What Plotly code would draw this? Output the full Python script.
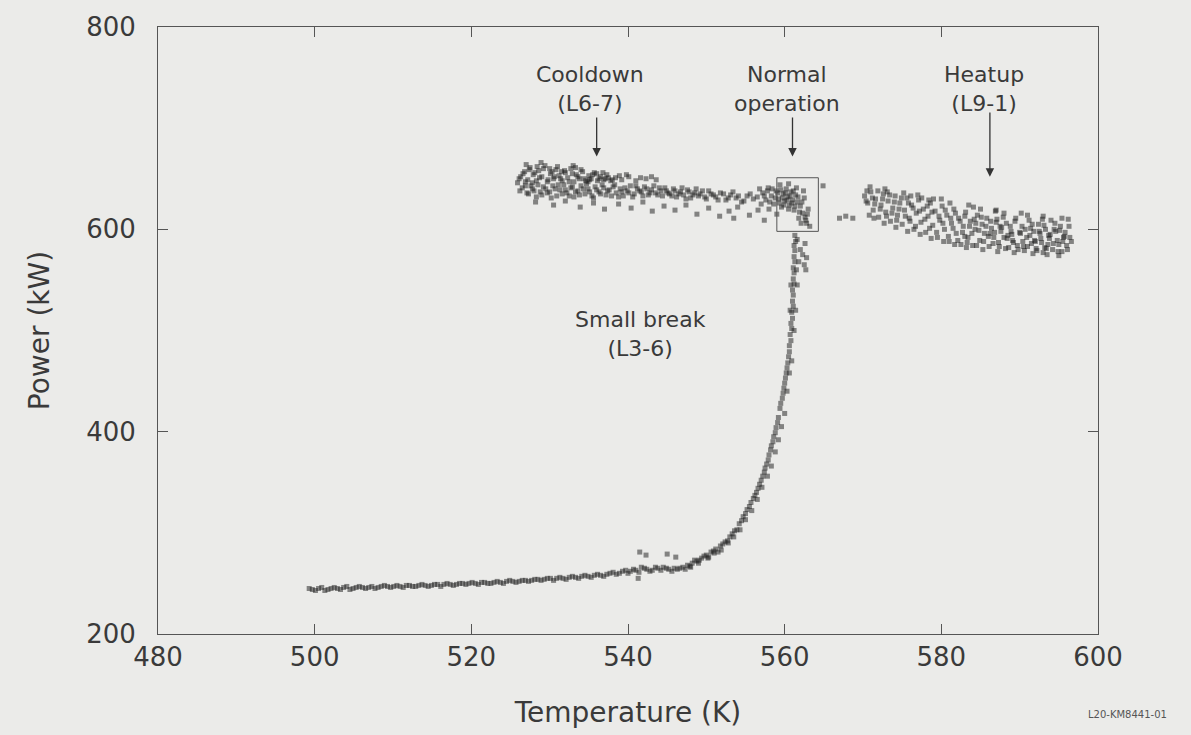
import plotly.graph_objects as go

# ---- Cooldown run (L6-7): (temperature K, power kW)
cool_pts = [
    # upper layer
    (526.3, 652), (526.8, 657), (527.2, 649), (527.5, 661), (527.9, 654), (528.3, 648), (528.6, 658),
    (529.0, 652), (529.4, 663), (529.7, 647), (530.1, 655), (530.5, 650), (530.8, 659), (531.2, 653),
    (531.6, 648), (532.0, 656), (532.3, 651), (532.7, 660), (533.1, 647), (533.4, 654), (533.8, 650),
    (534.2, 657), (534.6, 648), (535.0, 653), (535.3, 650), (535.7, 656), (536.1, 648), (536.5, 652),
    (536.9, 649), (537.3, 654), (537.8, 648), (538.4, 651), (539.2, 649), (540.1, 652), (541.0, 648),
    (542.3, 650), (543.6, 649), (527.0, 664), (528.9, 666), (531.0, 662), (525.9, 646), (533.0, 663),
    (526.1, 650), (526.6, 655), (527.4, 659), (527.8, 646), (528.1, 656), (528.7, 651), (529.2, 660),
    (529.8, 649), (530.3, 657), (530.6, 652), (531.4, 650), (531.9, 658), (532.5, 647), (532.9, 655),
    (533.6, 652), (534.0, 659), (534.4, 650), (534.9, 647), (535.5, 654), (536.3, 650), (536.8, 656),
    (537.5, 651), (538.0, 649), (538.9, 653), (526.9, 647), (528.4, 662), (530.0, 660), (531.5, 657),
    (533.3, 661), (535.1, 649), (536.0, 655), (537.1, 650), (539.8, 654), (541.6, 651), (543.0, 652),
    # lower layer
    (526.5, 641), (527.1, 636), (527.6, 643), (528.0, 638), (528.5, 644), (529.0, 634), (529.5, 640),
    (530.0, 637), (530.4, 643), (530.9, 633), (531.3, 639), (531.8, 644), (532.2, 636), (532.7, 641),
    (533.1, 632), (533.6, 638), (534.0, 643), (534.5, 635), (534.9, 640), (535.4, 633), (535.8, 642),
    (536.3, 637), (536.7, 644), (537.2, 634), (537.6, 639), (538.1, 642), (538.5, 636), (539.0, 640),
    (539.4, 633), (539.9, 638), (540.3, 643), (540.8, 635), (541.2, 640), (541.7, 637), (542.1, 642),
    (542.6, 634), (543.0, 639), (543.5, 636), (544.0, 641), (544.4, 633), (544.9, 638), (545.3, 635),
    (545.8, 640), (546.2, 632), (546.7, 637), (547.1, 634), (547.6, 639), (548.0, 631), (548.5, 636),
    (549.0, 633), (549.5, 638), (550.0, 630), (550.6, 635), (551.2, 632), (551.8, 636), (552.5, 629),
    (553.1, 634), (553.8, 631), (554.5, 627), (555.2, 633), (556.0, 630),
    (526.2, 638), (526.9, 643), (527.3, 635), (527.8, 640), (528.3, 632), (528.8, 637), (529.2, 642),
    (529.7, 636), (530.2, 631), (530.7, 640), (531.1, 644), (531.6, 635), (532.0, 639), (532.5, 633),
    (532.9, 642), (533.3, 637), (533.8, 634), (534.3, 640), (534.7, 645), (535.1, 637), (535.6, 631),
    (536.0, 639), (536.5, 635), (536.9, 641), (537.4, 638), (537.9, 633), (538.3, 644), (538.8, 632),
    (539.2, 637), (539.6, 641), (540.1, 636), (540.6, 632), (541.0, 643), (541.5, 638), (541.9, 633),
    (542.4, 640), (542.8, 636), (543.3, 643), (543.8, 634), (544.2, 638), (544.7, 641), (545.1, 636),
    (545.6, 633), (546.0, 638), (546.5, 635), (546.9, 641), (547.4, 630), (547.8, 637), (548.3, 634),
    (548.7, 640), (549.2, 635), (549.8, 632), (550.3, 638), (550.9, 634), (551.5, 629), (552.2, 635),
    (552.8, 631), (553.4, 637), (554.1, 633), (554.8, 628), (555.6, 635),
    # sparse fringe underneath
    (528.2, 627), (530.5, 624), (532.0, 628), (533.9, 622), (535.6, 626), (537.0, 620), (538.8, 625),
    (540.4, 621), (541.9, 627), (543.1, 618), (544.6, 623), (546.0, 619), (547.4, 624), (548.8, 615),
    (550.3, 621), (551.7, 613), (552.9, 618), (554.0, 622), (555.5, 614), (556.6, 619), (557.4, 609),
    (553.5, 611),
]

# ---- Normal operation
norm_pts = [
    (557.2, 636), (557.6, 629), (557.9, 641), (558.3, 633), (558.6, 625), (558.9, 638), (559.2, 630),
    (559.4, 644), (559.6, 622), (559.8, 635), (560.0, 628), (560.2, 640), (560.4, 632), (560.6, 624),
    (560.8, 637), (561.0, 629), (561.2, 619), (561.4, 634), (561.6, 627), (561.8, 611), (562.0, 623),
    (562.1, 606), (562.3, 616), (562.5, 631), (562.7, 609), (563.0, 620), (563.2, 603), (558.0, 620),
    (559.0, 615), (560.5, 645), (561.5, 641), (562.4, 638),
    (557.4, 633), (557.8, 638), (558.1, 627), (558.4, 640), (558.8, 631), (559.1, 636), (559.3, 626),
    (559.5, 639), (559.7, 631), (559.9, 624), (560.1, 636), (560.3, 629), (560.5, 620), (560.7, 633),
    (560.9, 626), (561.1, 638), (561.3, 623), (561.7, 632), (561.9, 617), (562.2, 627), (562.6, 612),
    (562.8, 606), (562.9, 615), (556.8, 640), (556.5, 632), (557.0, 625),
    (564.9, 643), (567.0, 611), (567.8, 613), (568.7, 611),
]

# ---- Heatup run (L9-1)
heat_pts = [
    (570.2, 633), (570.6, 626), (571.0, 637), (571.3, 619), (571.6, 630), (572.0, 612), (572.3, 624),
    (572.6, 635), (572.9, 617), (573.2, 628), (573.5, 608), (573.8, 621), (574.1, 633), (574.4, 614),
    (570.9, 642), (572.8, 640),
    (574.7, 626), (575.0, 605), (575.3, 619), (575.6, 631), (575.9, 611), (576.2, 624), (576.5, 600),
    (576.8, 616), (577.1, 629), (577.4, 607), (577.7, 620), (578.0, 597), (578.3, 613), (578.6, 626),
    (575.2, 636), (577.0, 634),
    (578.9, 604), (579.2, 618), (579.5, 592), (579.8, 609), (580.1, 623), (580.4, 600), (580.7, 614),
    (581.0, 588), (581.3, 606), (581.6, 620), (581.9, 596), (582.2, 611), (582.5, 585), (580.0, 630),
    (582.8, 603),
    (583.1, 617), (583.4, 592), (583.7, 608), (584.0, 584), (584.3, 600), (584.6, 614), (584.9, 589),
    (585.2, 605), (585.5, 596), (585.8, 611), (586.1, 583), (586.4, 601), (586.7, 592), (583.5, 624),
    (585.0, 620),
    (587.0, 607), (587.3, 587), (587.6, 598), (587.9, 612), (588.2, 581), (588.5, 594), (588.8, 603),
    (589.1, 589), (589.4, 608), (589.7, 584), (590.0, 597), (586.9, 618), (588.0, 616),
    (590.3, 603), (590.6, 579), (590.9, 592), (591.2, 609), (591.5, 586), (591.8, 598), (592.1, 581),
    (592.4, 605), (592.7, 591), (593.0, 577), (593.3, 600), (593.6, 585), (593.9, 595), (591.0, 614),
    (592.9, 610),
    (594.2, 580), (594.5, 606), (594.8, 589), (595.1, 599), (595.4, 578), (595.7, 593), (596.0, 584),
    (596.3, 603), (596.6, 588), (595.0, 574), (596.2, 610),
    (570.4, 628), (570.8, 614), (571.2, 631), (571.5, 625), (571.9, 638), (572.2, 620), (572.5, 630),
    (573.0, 613), (573.4, 634), (573.7, 616), (574.0, 627), (574.3, 609), (574.6, 620), (574.9, 631),
    (575.4, 613), (575.8, 626), (576.0, 608), (576.4, 621), (576.7, 603), (577.2, 618), (577.5, 631),
    (577.9, 610), (578.2, 623), (578.5, 601), (578.8, 617), (579.0, 630), (579.4, 597), (579.7, 613),
    (580.2, 606), (580.5, 619), (580.9, 593), (581.2, 611), (581.5, 601), (581.8, 616), (582.1, 589),
    (582.4, 608), (582.7, 597), (583.0, 613), (583.3, 587), (583.6, 603), (583.9, 596), (584.2, 610),
    (584.5, 584), (584.8, 599), (585.1, 612), (585.4, 588), (585.7, 603), (586.0, 593), (586.3, 608),
    (586.6, 586), (586.8, 597), (587.1, 610), (587.4, 583), (587.7, 602), (588.0, 592), (588.3, 606),
    (588.6, 582), (588.9, 598), (589.2, 587), (589.5, 611), (589.8, 580), (590.1, 596), (590.4, 588),
    (590.7, 600), (591.0, 583), (591.3, 594), (591.6, 605), (591.9, 589), (592.2, 579), (592.5, 598),
    (592.8, 587), (593.1, 604), (593.4, 581), (593.7, 594), (594.0, 609), (594.3, 586), (594.6, 598),
    (594.9, 578), (595.2, 603), (595.5, 588), (595.8, 597), (596.1, 580), (596.4, 592), (589.0, 595),
    (590.5, 583), (591.4, 601), (592.0, 588), (592.6, 596), (593.2, 582), (593.8, 591), (594.4, 600),
    (595.0, 585), (595.6, 592), (587.5, 603), (588.4, 591), (586.2, 596), (584.4, 606), (583.0, 593),
    (571.4, 611), (572.7, 606), (574.2, 602), (575.7, 598), (577.3, 595), (578.7, 591), (580.3, 588),
    (581.7, 585), (583.2, 582), (585.3, 580), (587.2, 578), (589.3, 577), (591.7, 576), (593.5, 575),
    (570.5, 638), (573.1, 637), (576.1, 633), (578.4, 629), (581.1, 626), (584.1, 622), (587.0, 619),
    (590.2, 616), (593.0, 613), (595.4, 611),
]

# ---- Small break run (L3-6)
brk_pts = [
    (499.3, 245), (500.1, 243), (500.9, 246), (501.7, 244), (502.5, 246), (503.3, 244), (504.1, 247),
    (504.9, 245), (505.7, 247), (506.5, 245), (507.3, 247), (508.1, 246), (508.9, 248), (509.7, 246),
    (510.5, 248), (511.3, 246), (512.1, 248), (512.9, 247), (513.7, 249), (514.5, 247), (515.3, 249),
    (516.1, 247), (516.9, 250), (517.7, 248), (518.5, 250), (519.3, 249), (520.1, 251), (520.9, 249),
    (521.7, 251), (522.5, 250), (523.3, 252), (524.1, 250), (524.9, 253), (525.7, 251), (526.5, 253),
    (527.3, 252), (528.1, 254), (528.9, 253), (529.7, 255), (530.5, 253), (531.3, 256), (532.1, 254),
    (532.9, 257), (533.7, 255), (534.5, 258), (535.3, 256), (536.1, 259), (536.9, 257), (537.7, 260),
    (538.5, 259), (539.3, 262), (540.0, 260), (540.7, 264), (541.4, 261), (542.1, 265), (542.8, 262),
    (543.5, 266), (544.2, 263), (544.9, 265), (545.6, 262), (546.3, 264), (547.0, 266), (547.6, 268),
    (548.2, 270), (548.8, 272), (549.4, 275), (550.0, 278), (550.6, 281), (551.2, 284), (551.8, 287),
    (552.4, 291), (553.0, 296), (553.6, 302), (554.2, 309), (554.7, 316), (555.2, 323), (555.7, 330),
    (556.2, 337), (556.6, 344), (557.0, 352), (557.4, 360), (557.7, 368), (558.0, 377), (558.3, 386),
    (558.6, 395), (558.9, 404), (559.2, 414), (559.4, 423), (559.7, 433), (559.9, 443), (560.1, 453),
    (560.3, 463), (560.5, 474), (560.6, 485), (560.7, 496), (560.8, 507), (560.9, 518), (561.0, 529),
    (561.0, 540), (561.1, 551), (561.1, 562), (561.2, 573), (561.2, 584), (561.3, 594),
    (548.0, 266), (549.0, 270), (550.2, 275), (551.0, 280), (551.9, 283), (552.8, 290), (553.5, 296),
    (554.3, 303), (555.0, 313), (555.8, 322), (556.5, 333), (557.1, 345), (557.8, 356), (558.3, 366),
    (558.8, 380), (559.2, 392), (559.6, 405), (560.0, 418), (560.3, 440), (560.6, 458), (560.9, 470),
    (561.2, 500), (561.4, 520), (561.6, 545), (561.8, 568), (562.0, 580), (562.6, 586), (562.8, 572),
    (562.7, 560), (561.6, 590),
    (499.7, 244), (500.5, 245), (501.3, 243), (502.1, 245), (502.9, 245), (503.7, 246), (504.5, 244),
    (505.3, 246), (506.1, 246), (506.9, 246), (507.7, 245), (508.5, 247), (509.3, 247), (510.1, 247),
    (510.9, 247), (511.7, 248), (512.5, 247), (513.3, 248), (514.1, 248), (514.9, 248), (515.7, 249),
    (516.5, 249), (517.3, 249), (518.1, 249), (518.9, 250), (519.7, 250), (520.5, 250), (521.3, 251),
    (522.1, 250), (522.9, 251), (523.7, 251), (524.5, 252), (525.3, 252), (526.1, 252), (526.9, 253),
    (527.7, 253), (528.5, 254), (529.3, 254), (530.1, 255), (530.9, 255), (531.7, 255), (532.5, 256),
    (533.3, 256), (534.1, 257), (534.9, 257), (535.7, 258), (536.5, 258), (537.3, 259), (538.1, 261),
    (538.9, 260), (539.7, 263), (540.3, 262), (541.0, 263), (541.7, 266), (542.4, 264), (543.1, 263),
    (543.8, 265), (544.5, 266), (545.2, 264), (545.9, 265), (546.6, 265), (547.3, 264), (547.9, 267),
    (548.5, 273), (549.1, 273), (549.7, 277), (550.3, 276), (550.9, 282), (551.5, 281), (552.1, 289),
    (552.7, 292), (553.3, 299), (553.9, 303), (554.5, 312), (555.0, 319), (555.5, 326), (556.0, 334),
    (556.4, 340), (556.8, 348), (557.2, 356), (557.5, 364), (557.9, 372), (558.2, 382), (558.5, 390),
    (558.8, 399), (559.1, 409), (559.5, 428), (559.8, 438), (560.0, 448), (560.2, 458), (560.4, 468),
    (560.6, 479), (560.8, 490), (560.9, 502), (561.0, 512), (561.1, 524), (561.1, 535), (561.2, 546),
    (561.2, 557), (561.3, 568), (561.3, 579), (561.4, 588), (560.7, 520), (560.8, 545), (561.5, 560),
    (562.3, 575), (562.5, 565),
    # stray readings near the knee
    (541.5, 281), (545.0, 279), (541.3, 255), (542.3, 278), (546.1, 276),
]

# ---- Axis ticks
x_ticks = [480, 500, 520, 540, 560, 580, 600]
y_ticks = [200, 400, 600, 800]

INK = "rgba(25,25,25,0.5)"
TXT = "#3a3a3a"
FONT = "DejaVu Sans"

fig = go.Figure()
for name, pts in [("Cooldown (L6-7)", cool_pts),
                  ("Normal operation", norm_pts),
                  ("Heatup (L9-1)", heat_pts),
                  ("Small break (L3-6)", brk_pts)]:
    fig.add_trace(go.Scatter(x=[p[0] for p in pts], y=[p[1] for p in pts], mode="markers", name=name,
                             marker=dict(symbol="square", size=5, color=INK, line=dict(width=0))))

# box around the normal-operation cluster
fig.add_shape(type="rect", x0=559.0, x1=564.3, y0=598, y1=651,
              line=dict(color="#555", width=1))

# two-line labels
labels = [("Cooldown<br>(L6-7)", 535.2, 739),
          ("Normal<br>operation", 560.3, 739),
          ("Heatup<br>(L9-1)", 585.4, 739),
          ("Small break<br>(L3-6)", 541.6, 497)]
for t, x, y in labels:
    fig.add_annotation(x=x, y=y, text=t, showarrow=False, align="center",
                       font=dict(family=FONT, size=22, color=TXT))

# arrows pointing at each cluster
for x, y_tail, y_tip in [(536.0, 712, 672), (561.0, 712, 672), (586.2, 717, 652)]:
    fig.add_annotation(x=x, y=y_tip, ax=x, ay=y_tail, axref="x", ayref="y",
                       xref="x", yref="y", text="", showarrow=True,
                       arrowhead=2, arrowsize=1.3, arrowwidth=1.3, arrowcolor="#333")

fig.add_annotation(xref="paper", yref="paper", x=1.075, y=-0.145, xanchor="right",
                   text="L20-KM8441-01", showarrow=False,
                   font=dict(family=FONT, size=10, color="#555"))

axis_common = dict(showgrid=False, zeroline=False, showline=True, linecolor="#555", linewidth=1,
                   mirror="ticks", ticks="inside", ticklen=10, tickcolor="#555", tickwidth=1,
                   tickfont=dict(family=FONT, size=26, color=TXT))

fig.update_xaxes(range=[480, 600], tickvals=x_ticks,
                 title=dict(text="Temperature (K)", font=dict(family=FONT, size=28, color=TXT), standoff=31),
                 **axis_common)
fig.update_yaxes(range=[200, 800], tickvals=y_ticks, ticklabelstandoff=16,
                 title=dict(text="Power (kW)", font=dict(family=FONT, size=28, color=TXT), standoff=28),
                 **axis_common)

fig.update_layout(width=1191, height=735, showlegend=False,
                  margin=dict(l=158, r=93, t=25, b=99),
                  paper_bgcolor="#ebebe9", plot_bgcolor="#ebebe9",
                  font=dict(family=FONT, color=TXT))

fig.write_html("out.html")
